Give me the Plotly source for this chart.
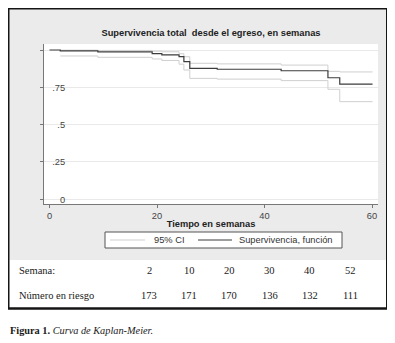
import plotly.graph_objects as go

# ---------------- data ----------------
km_time = [0, 2, 9, 19.1, 20.9, 24.1, 25.0, 26.1, 31.2, 43.1, 51.8, 54.0, 60.1]
km_surv = [1.0, 0.994, 0.988, 0.976, 0.968, 0.955, 0.922, 0.877, 0.871, 0.861, 0.814, 0.772, 0.772]

ci_time = [2, 9, 19.1, 20.9, 24.1, 25.0, 26.1, 31.2, 43.1, 51.8, 54.0, 60.1]
ci_upper = [0.999, 0.997, 0.992, 0.988, 0.975, 0.955, 0.911, 0.907, 0.899, 0.857, 0.853, 0.853]
ci_lower = [0.960, 0.951, 0.940, 0.930, 0.905, 0.866, 0.810, 0.805, 0.795, 0.737, 0.654, 0.654]

y_tickvals = [0, 0.25, 0.5, 0.75, 1]
y_ticktext = ["0", ".25", ".5", ".75", ""]
x_tickvals = [0, 20, 40, 60]

table_weeks = ["2", "10", "20", "30", "40", "52"]
table_at_risk = ["173", "171", "170", "136", "132", "111"]

title_text = "Supervivencia total\u00a0 desde el egreso, en semanas"
xaxis_title = "Tiempo en semanas"
ci_name = "95% CI"
km_name = "Supervivencia, función"
row1_label = "Semana:"
row2_label = "Número en riesgo"
caption_bold = "Figura 1."
caption_italic = "Curva de Kaplan-Meier."

# ---------------- layout geometry (pixels, in window coordinates) ----------------
# the page body has an 8px margin, so the figure itself starts at (8, 8)
OFF = 8
W, H = 395 - OFF, 343 - OFF
PL, PR, PT, PB = 44, 378, 44, 204  # plot area in window coordinates


def px_x(p):
    return (p - PL) / (PR - PL)


def px_y(p):
    return (PB - p) / (PB - PT)


SANS = "Liberation Sans, Arial, sans-serif"
SERIF = "Liberation Serif, Times New Roman, serif"
CI_COLOR = "#cfcfcf"
KM_COLOR = "#3c3c3c"

fig = go.Figure()
fig.add_trace(go.Scatter(
    x=ci_time, y=ci_lower, mode="lines", line=dict(shape="hv", color=CI_COLOR, width=1),
    name=ci_name, legendgroup="ci", showlegend=False, hoverinfo="skip"))
fig.add_trace(go.Scatter(
    x=ci_time, y=ci_upper, mode="lines", line=dict(shape="hv", color=CI_COLOR, width=1),
    name=ci_name, legendgroup="ci", showlegend=False, hoverinfo="skip"))
fig.add_trace(go.Scatter(
    x=km_time, y=km_surv, mode="lines", line=dict(shape="hv", color=KM_COLOR, width=1.2),
    name=km_name, showlegend=False))

annotations = []
shapes = [
    dict(type="rect", xref="paper", yref="paper", x0=px_x(9), x1=px_x(386), y0=px_y(260), y1=px_y(9),
         fillcolor="#ebebeb", line=dict(width=0), layer="below"),
    dict(type="rect", xref="paper", yref="paper", x0=0, x1=1, y0=0, y1=1,
         fillcolor="#ffffff", line=dict(width=0), layer="below"),
    dict(type="rect", xref="paper", yref="paper", x0=px_x(8.25), x1=px_x(387.25), y0=px_y(308.5),
         y1=px_y(8.25), fillcolor="rgba(0,0,0,0)", line=dict(color="#151515", width=2.5), layer="above"),
]

# legend box (drawn by hand to match the compact boxed key)
LEG_Y = 240
shapes.append(dict(type="rect", xref="paper", yref="paper", x0=px_x(105), x1=px_x(342),
                   y0=px_y(248), y1=px_y(232), fillcolor="#ffffff",
                   line=dict(color="#555555", width=1), layer="above"))
legend_items = [
    (ci_name, CI_COLOR, 1, 110, 145, 152),
    (km_name, KM_COLOR, 1.2, 198, 232, 237),
]
for name, color, lw, lx0, lx1, tx in legend_items:
    shapes.append(dict(type="line", xref="paper", yref="paper", x0=px_x(lx0), x1=px_x(lx1),
                       y0=px_y(LEG_Y), y1=px_y(LEG_Y), line=dict(color=color, width=lw), layer="above"))
    annotations.append(dict(text=name, x=px_x(tx), y=px_y(LEG_Y), xref="paper", yref="paper",
                            xanchor="left", yanchor="middle", showarrow=False,
                            font=dict(family=SANS, size=9.3, color="#333333")))

# table
col_x = [149 + i * 40.2 for i in range(len(table_weeks))]
row_y = [270, 295]
for label, ry in ((row1_label, row_y[0]), (row2_label, row_y[1])):
    annotations.append(dict(text=label, x=px_x(17), y=px_y(ry), xref="paper", yref="paper",
                            xanchor="left", yanchor="middle", showarrow=False,
                            font=dict(family=SERIF, size=10.5, color="#1a1a1a")))
for cx, wk, nr in zip(col_x, table_weeks, table_at_risk):
    for txt, ry in ((wk, row_y[0]), (nr, row_y[1])):
        annotations.append(dict(text=txt, x=px_x(cx), y=px_y(ry), xref="paper", yref="paper",
                                xanchor="center", yanchor="middle", showarrow=False,
                                font=dict(family=SERIF, size=10.5, color="#1a1a1a")))
# caption
annotations.append(dict(text=f"<b>{caption_bold}</b> <i>{caption_italic}</i>",
                        x=px_x(8), y=px_y(330), xref="paper", yref="paper",
                        xanchor="left", yanchor="middle", showarrow=False,
                        font=dict(family=SERIF, size=10.3, color="#1a1a1a")))

fig.update_layout(
    width=W, height=H, autosize=False,
    margin=dict(l=PL - OFF, r=W - (PR - OFF), t=PT - OFF, b=H - (PB - OFF), pad=0),
    paper_bgcolor="#ffffff", plot_bgcolor="#ffffff",
    title=dict(text=f"<b>{title_text}</b>", x=0.5, xref="paper", xanchor="center",
               y=1 - (33 - OFF) / H, yref="container", yanchor="middle",
               font=dict(family=SANS, size=9.3, color="#222222")),
    xaxis=dict(range=[(PL - 49.5) / 5.375, (PR - 49.5) / 5.375], tickvals=x_tickvals,
               ticks="outside", ticklen=3, tickcolor="#777777", showline=True, linecolor="#777777",
               linewidth=1, showgrid=False, zeroline=False, automargin=False,
               tickfont=dict(family=SANS, size=9.3, color="#444444"),
               title=dict(text=f"<b>{xaxis_title}</b>", standoff=0,
                          font=dict(family=SANS, size=9.3, color="#222222"))),
    yaxis=dict(range=[(199.3 - PB) / 149.3, (199.3 - PT) / 149.3], tickvals=y_tickvals,
               ticktext=y_ticktext, ticks="outside", ticklen=3, tickcolor="#777777",
               ticklabelstandoff=-27, showline=True, linecolor="#777777", linewidth=1,
               showgrid=True, gridcolor="#e9e9e9", gridwidth=1, zeroline=False, automargin=False,
               tickfont=dict(family=SANS, size=9.3, color="#444444")),
    annotations=annotations,
    shapes=shapes,
    showlegend=False,
)

fig.write_html("out.html")
